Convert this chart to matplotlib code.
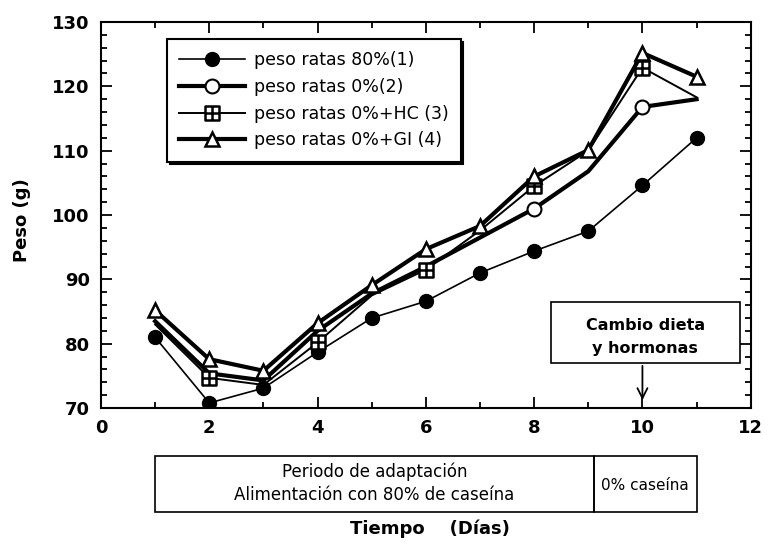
import matplotlib.pyplot as plt
from matplotlib.path import Path
from matplotlib.patches import Rectangle
from matplotlib.ticker import MultipleLocator
import matplotlib.transforms as mtransforms

# Datos (peso en g por dia)
dias = [1, 2, 3, 4, 5, 6, 7, 8, 9, 10, 11]
peso_80 = [81.0, 70.8, 73.1, 78.7, 84.0, 86.6, 91.0, 94.4, 97.5, 104.6, 112.0]
peso_0 = [83.5, 75.4, 74.3, 82.0, 87.8, 92.0, 96.5, 101.0, 106.8, 116.8, 118.0]
peso_hc = [83.0, 74.7, 73.6, 80.2, 87.5, 91.5, 97.6, 104.5, 110.0, 122.9, 118.3]
peso_gi = [85.2, 77.6, 75.8, 83.2, 89.1, 94.7, 98.3, 106.0, 110.1, 125.2, 121.5]

etiquetas = ['peso ratas 80%(1)', 'peso ratas 0%(2)',
             'peso ratas 0%+HC (3)', 'peso ratas 0%+GI (4)']

# marcador cuadrado con cruz
cuadro = Path([(-1, -1), (1, -1), (1, 1), (-1, 1), (-1, -1),
               (0, -1), (0, 1), (-1, 0), (1, 0)],
              [Path.MOVETO, Path.LINETO, Path.LINETO, Path.LINETO, Path.CLOSEPOLY,
               Path.MOVETO, Path.LINETO, Path.MOVETO, Path.LINETO])

fig = plt.figure(figsize=(7.68, 5.5), dpi=100)
ax = fig.add_axes([0.1315, 0.258, 0.846, 0.702])

ax.plot(dias, peso_80, color='k', lw=1.2, marker='o', ms=10,
        mfc='k', mec='k', label=etiquetas[0], zorder=2)
ax.plot(dias, peso_0, color='k', lw=3, marker='o', ms=10, mfc='white',
        mec='k', mew=1.5, markevery=[7, 9], label=etiquetas[1], zorder=3)
ax.plot(dias, peso_hc, color='k', lw=1.4, marker=cuadro, ms=10, mfc='white',
        mec='k', mew=1.8, markevery=[1, 3, 5, 7, 9], label=etiquetas[2], zorder=4)
ax.plot(dias, peso_gi, color='k', lw=3, marker='^', ms=10, mfc='white',
        mec='k', mew=1.8, label=etiquetas[3], zorder=5)

ax.set_xlim(0, 12)
ax.set_ylim(70, 130)
ax.xaxis.set_major_locator(MultipleLocator(2))
ax.xaxis.set_minor_locator(MultipleLocator(1))
ax.yaxis.set_major_locator(MultipleLocator(10))
ax.yaxis.set_minor_locator(MultipleLocator(2))
ax.tick_params(which='both', direction='in', top=True, right=True, width=1.3)
ax.tick_params(which='major', length=8, labelsize=13, pad=8)
ax.tick_params(which='minor', length=4)
for lab in ax.get_xticklabels() + ax.get_yticklabels():
    lab.set_fontweight('bold')
for s in ax.spines.values():
    s.set_linewidth(1.5)

leg = ax.legend(loc='upper left', bbox_to_anchor=(0.088, 0.978), fontsize=12.5,
                frameon=True, fancybox=False, edgecolor='k', handlelength=3.8,
                borderpad=0.7, labelspacing=0.5, handletextpad=0.5,
                shadow={'color': 'k', 'alpha': 1})
leg.get_frame().set_linewidth(1.5)

# recuadro de cambio de dieta
ax.add_patch(Rectangle((8.32, 77), 3.48, 9.5, fill=False, ec='k', lw=1.2, zorder=6))
ax.text(10.05, 82.9, 'Cambio dieta', ha='center', va='center', fontsize=11.5,
        fontweight='semibold')
ax.text(10.05, 79.2, 'y hormonas', ha='center', va='center', fontsize=11.5,
        fontweight='semibold')
ax.annotate('', xy=(10, 70.8), xytext=(10, 77),
            arrowprops=dict(arrowstyle='->', color='k', lw=1.3,
                            mutation_scale=18))

# recuadros del periodo bajo el eje
trans = mtransforms.blended_transform_factory(ax.transData, ax.transAxes)
ax.add_patch(Rectangle((1, -0.269), 8.1, 0.145, transform=trans, fill=False,
                       ec='k', lw=1.2, clip_on=False))
ax.add_patch(Rectangle((9.1, -0.269), 1.9, 0.145, transform=trans, fill=False,
                       ec='k', lw=1.2, clip_on=False))
ax.text(5.05, -0.166, 'Periodo de adaptación', transform=trans, ha='center',
        va='center', fontsize=12)
ax.text(5.05, -0.225, 'Alimentación con 80% de caseína', transform=trans,
        ha='center', va='center', fontsize=12)
ax.text(10.05, -0.2, '0% caseína', transform=trans, ha='center',
        va='center', fontsize=11)

fig.text(0.56, 0.038, 'Tiempo    (Días)', ha='center', va='center',
         fontsize=13, fontweight='bold')
fig.text(0.028, 0.6, 'Peso (g)', ha='center', va='center', rotation=90,
         fontsize=13, fontweight='bold')

fig.savefig('out.png', dpi=100)
